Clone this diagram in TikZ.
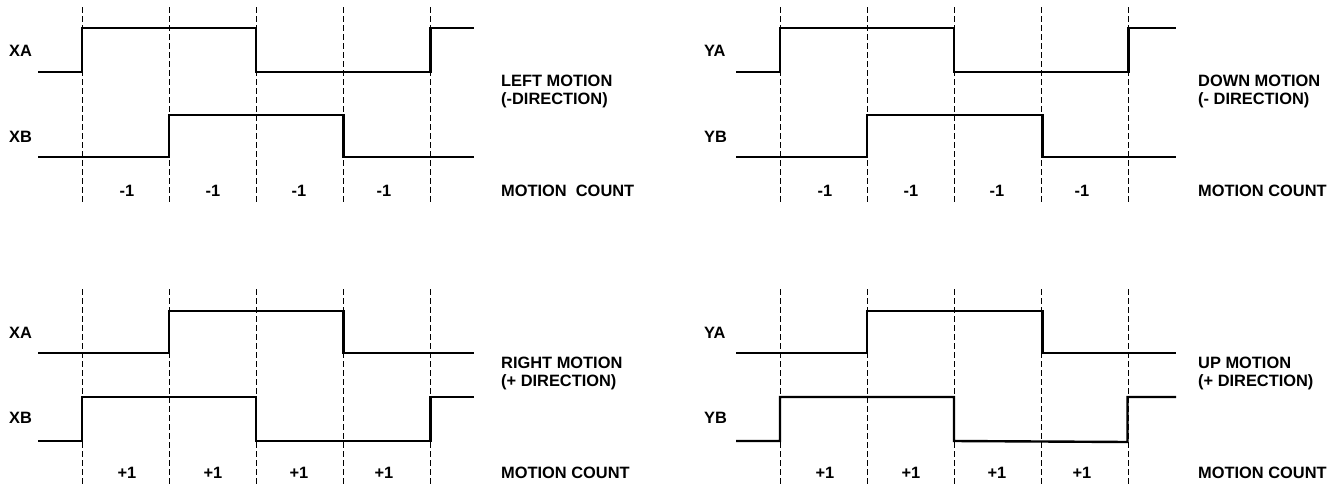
\documentclass[tikz,border=0pt]{standalone}
\usepackage{fontspec}
\setmainfont{Liberation Sans}
\begin{document}
\begin{tikzpicture}[x=1pt,y=-1pt,
	            wave/.style={line width=2.4pt},
	            tick/.style={line width=0.9pt, dash pattern=on 5.5pt off 3.5pt},
	            lbl/.style={font=\fontsize{16.4}{18}\selectfont\bfseries, inner sep=0pt}]
	            \useasboundingbox (0,0) rectangle (1342,485);
	            % left: X channel
	            \foreach \x in {82,169,256,343.5,430.5} {
	                \draw[tick] (\x,7) -- (\x,203);
	                \draw[tick] (\x,289) -- (\x,485);
	            }
	            \node[lbl, anchor=west] (xa1) at (9,51) {XA};
	            \node[lbl, anchor=west] (xb1) at (9,137) {XB};
	            \draw[wave] (38,72) -- (82,72) -- (82,28) -- (256,28) -- (256,72) -- (430.5,72) -- (430.5,28) -- (474,28);
	            \draw[wave] (38,157) -- (169,157) -- (169,115) -- (343.5,115) -- (343.5,157) -- (474,157);
	            \node[lbl, anchor=west, align=left] (left) at (501,91) {LEFT MOTION\\(-DIRECTION)};
	            \node[lbl, anchor=west] (cnt1) at (501,191) {MOTION\ \ COUNT};
	            \node[lbl] (m1) at (127,191) {-1};
	            \node[lbl] (m2) at (213,191) {-1};
	            \node[lbl] (m3) at (299,191) {-1};
	            \node[lbl] (m4) at (384,191) {-1};
	            \node[lbl, anchor=west] (xa2) at (9,333) {XA};
	            \node[lbl, anchor=west] (xb2) at (9,418) {XB};
	            \draw[wave] (38,353) -- (169,353) -- (169,311) -- (343.5,311) -- (343.5,353) -- (474,353);
	            \draw[wave] (38,441) -- (82,441) -- (82,397) -- (256,397) -- (256,441) -- (430.5,441) -- (430.5,397) -- (474,397);
	            \node[lbl, anchor=west, align=left] (right) at (501,373) {RIGHT MOTION\\(+ DIRECTION)};
	            \node[lbl, anchor=west] (cnt2) at (501,473) {MOTION COUNT};
	            \node[lbl] (p1) at (127,473) {+1};
	            \node[lbl] (p2) at (213,473) {+1};
	            \node[lbl] (p3) at (299,473) {+1};
	            \node[lbl] (p4) at (384,473) {+1};
	            % right: Y channel
	            \begin{scope}[xshift=698pt]
	            \foreach \x in {82,169,256,343.5,430.5} {
	                \draw[tick] (\x,7) -- (\x,203);
	                \draw[tick] (\x,289) -- (\x,485);
	            }
	            \node[lbl, anchor=west] (ya1) at (6,51) {YA};
	            \node[lbl, anchor=west] (yb1) at (6,137) {YB};
	            \draw[wave] (38,72) -- (82,72) -- (82,28) -- (256,28) -- (256,72) -- (430.5,72) -- (430.5,28) -- (478,28);
	            \draw[wave] (38,157) -- (169,157) -- (169,115) -- (344.5,115) -- (344.5,157) -- (478,157);
	            \node[lbl, anchor=west, align=left] (down) at (500,91) {DOWN MOTION\\(- DIRECTION)};
	            \node[lbl, anchor=west] (cnt3) at (500,191) {MOTION COUNT};
	            \node[lbl] (m5) at (127,191) {-1};
	            \node[lbl] (m6) at (213,191) {-1};
	            \node[lbl] (m7) at (299,191) {-1};
	            \node[lbl] (m8) at (384,191) {-1};
	            \node[lbl, anchor=west] (ya2) at (6,333) {YA};
	            \node[lbl, anchor=west] (yb2) at (6,418) {YB};
	            \draw[wave] (38,353) -- (169,353) -- (169,311) -- (344.5,311) -- (344.5,353) -- (478,353);
	            \draw[wave] (38,441) -- (82,441) -- (82,397) -- (256,397) -- (256,441) -- (429.5,442) -- (429.5,397) -- (478,397);
	            \node[lbl, anchor=west, align=left] (up) at (500,373) {UP MOTION\\(+ DIRECTION)};
	            \node[lbl, anchor=west] (cnt4) at (500,473) {MOTION COUNT};
	            \node[lbl] (p5) at (127,473) {+1};
	            \node[lbl] (p6) at (213,473) {+1};
	            \node[lbl] (p7) at (299,473) {+1};
	            \node[lbl] (p8) at (384,473) {+1};
	            \end{scope}
            \end{tikzpicture}
\end{document}
